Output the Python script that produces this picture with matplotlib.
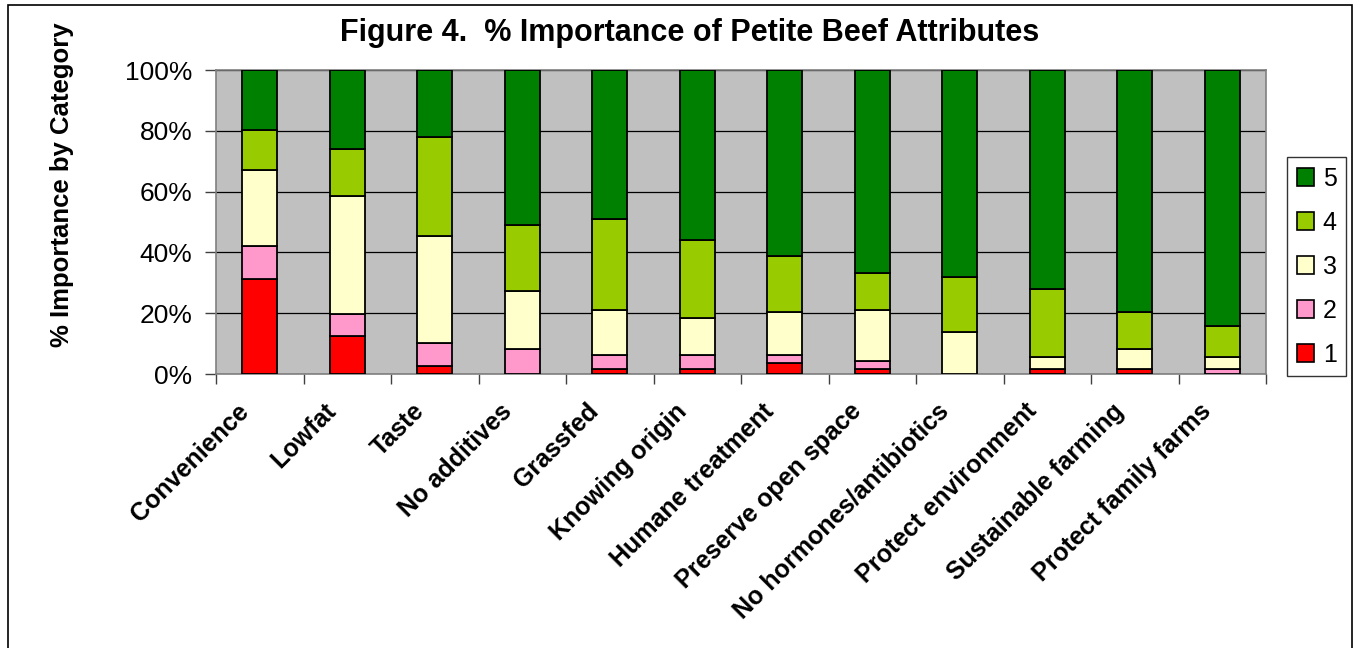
"""
Stacked percentage bars of importance ratings (1-5) for petite beef attributes.
"""

import matplotlib.pyplot as plt
import numpy as np
from matplotlib.patches import Patch, Rectangle
from matplotlib.transforms import ScaledTranslation

attributes = [
    "Convenience", "Lowfat", "Taste", "No additives", "Grassfed",
    "Knowing origin", "Humane treatment", "Preserve open space",
    "No hormones/antibiotics", "Protect environment",
    "Sustainable farming", "Protect family farms",
]

# percent of responses in each rating, per attribute
rating_1 = [31.1, 12.5, 2.5, 0.0, 1.8, 1.8, 3.6, 1.8, 0.0, 1.8, 1.8, 0.0]
rating_2 = [11.0, 7.1, 7.6, 8.1, 4.4, 4.4, 2.6, 2.5, 0.0, 0.0, 0.0, 1.8]
rating_3 = [24.9, 38.9, 35.3, 19.2, 14.8, 12.3, 14.1, 16.8, 13.7, 3.9, 6.4, 3.9]
rating_4 = [13.2, 15.5, 32.4, 21.8, 29.9, 25.5, 18.4, 12.1, 18.1, 22.2, 12.2, 10.2]
rating_5 = [19.8, 26.0, 22.2, 50.9, 49.1, 56.0, 61.3, 66.8, 68.2, 72.1, 79.6, 84.1]

series = [rating_1, rating_2, rating_3, rating_4, rating_5]
series_labels = ["1", "2", "3", "4", "5"]
colors = ["#FF0000", "#FF99CC", "#FFFFCC", "#99CC00", "#008000"]

W, H = 1359, 648
fig = plt.figure(figsize=(W / 100, H / 100), dpi=100)
ax = fig.add_axes([216 / W, 1 - 374 / H, 1050 / W, 304 / H])

# outer chart border
fig.patches.append(Rectangle((8 / W, -0.1), (1352 - 8) / W, 1.1 - 5 / H,
                             transform=fig.transFigure, fill=False,
                             edgecolor="black", linewidth=1.2))

x = np.arange(len(attributes))
bottom = np.zeros(len(attributes))
for vals, lab, col in zip(series, series_labels, colors):
    vals = np.array(vals)
    ax.bar(x, vals, width=0.4, bottom=bottom, color=col, edgecolor="black",
           linewidth=1.3, label=lab, zorder=3)
    bottom += vals

ax.set_facecolor("#C0C0C0")
ax.set_xlim(-0.5, len(attributes) - 0.5)
ax.set_ylim(0, 100)
ax.set_yticks(np.arange(0, 101, 20))
ax.set_yticklabels([f"{v}%" for v in range(0, 101, 20)],
                   fontsize=19, family="Liberation Sans")
ax.yaxis.grid(True, color="black", linewidth=0.9, zorder=1)
ax.tick_params(axis="y", length=8, width=1, pad=9, color="#404040")

# category ticks sit between bars, names drawn separately below
ax.set_xticks(np.arange(-0.5, len(attributes)))
ax.set_xticklabels([])
ax.tick_params(axis="x", length=7, width=1, color="#404040")

shift = ScaledTranslation(-23 / 100, -25 / 100, fig.dpi_scale_trans)
for i, name in enumerate(attributes):
    ax.text(i, 0, name, transform=ax.get_xaxis_transform() + shift,
            rotation=45, ha="right", va="top", rotation_mode="anchor",
            fontsize=18, fontweight="bold", family="Liberation Sans")

for s in ax.spines.values():
    s.set_color("#808080")
    s.set_linewidth(1.2)

fig.text(74 / W, 1 - 185 / H, "% Importance by Category", rotation=90,
         ha="right", va="center", fontsize=18.5, fontweight="bold",
         family="Liberation Sans")

fig.text(690 / W, 1 - 33 / H, "Figure 4.  % Importance of Petite Beef Attributes",
         ha="center", va="center", fontsize=22, fontweight="bold",
         family="Liberation Sans")

handles = [Patch(facecolor=c, edgecolor="black", linewidth=1.2)
           for c in colors[::-1]]
leg = fig.legend(handles, series_labels[::-1], loc="upper left",
                 bbox_to_anchor=(1287 / W, 1 - 157 / H), borderaxespad=0,
                 frameon=True, fancybox=False,
                 prop={"family": "Liberation Sans", "size": 18},
                 handlelength=0.7, handleheight=0.7, handletextpad=0.35,
                 labelspacing=0.8, borderpad=0.38)
leg.get_frame().set_edgecolor("black")
leg.get_frame().set_linewidth(1.0)

fig.savefig("out.png", dpi=100)
